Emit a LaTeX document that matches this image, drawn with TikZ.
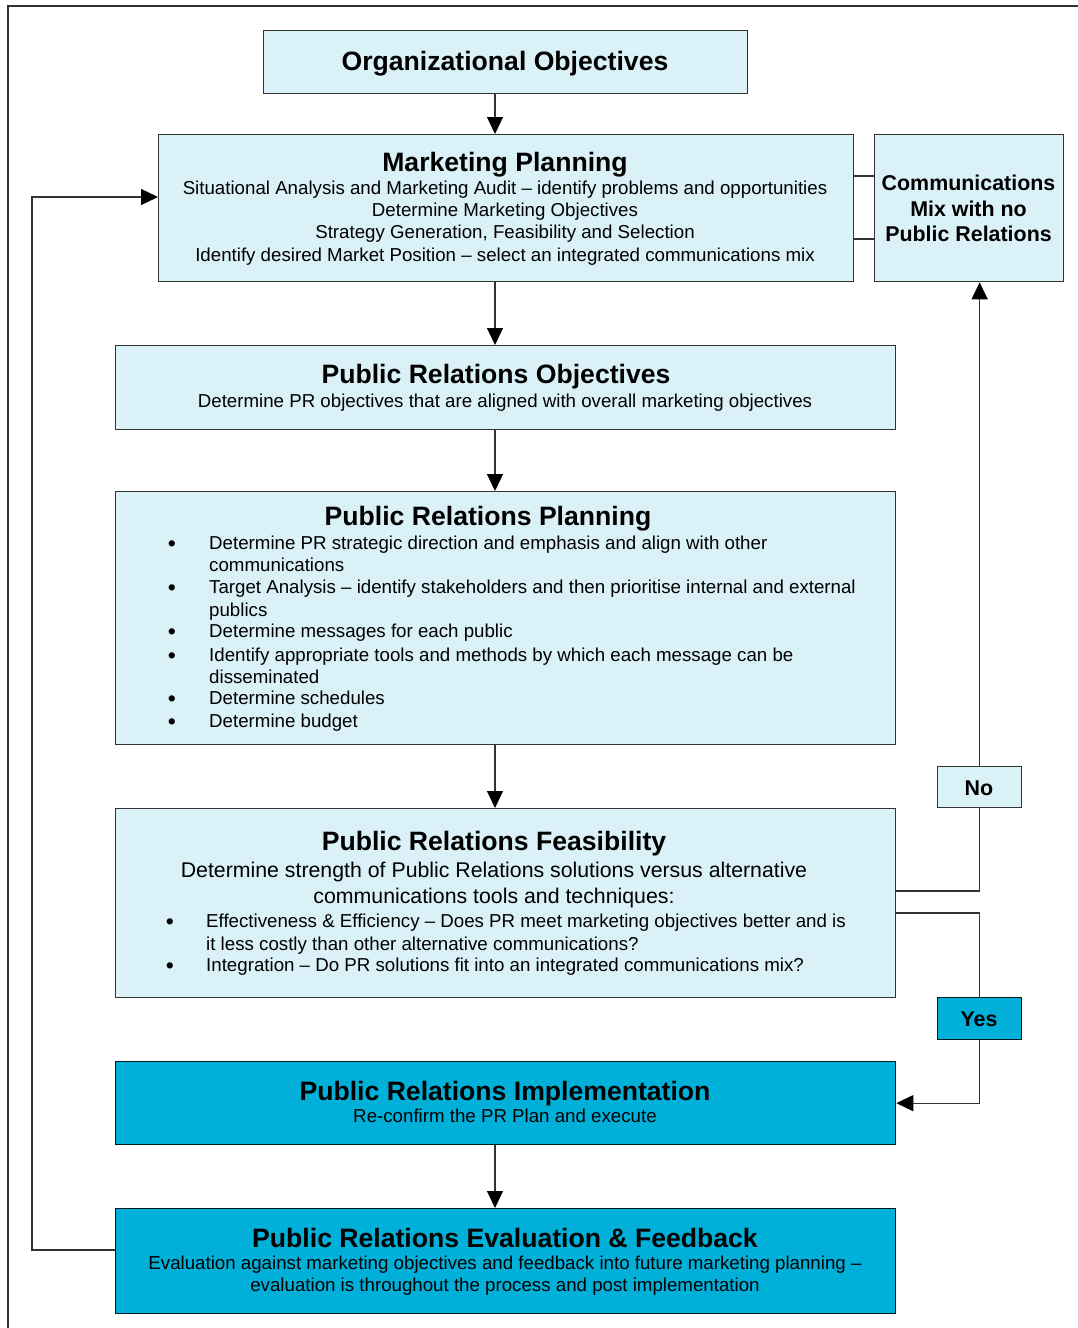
\documentclass[tikz,border=0pt]{standalone}
\usepackage{fontspec}
\setmainfont{Liberation Sans}
\usetikzlibrary{arrows.meta,calc}
\definecolor{lightb}{HTML}{DAF1F8}
\definecolor{darkb}{HTML}{00B0D8}
\definecolor{bordc}{HTML}{333333}
\tikzset{
  pbox/.style={draw=bordc, line width=1.3pt, fill=lightb, inner sep=0pt, anchor=north west},
  dbox/.style={pbox, fill=darkb, draw=black!85!darkb},
  conn/.style={draw=bordc, line width=1.2pt},
  arr/.style={conn, -{Triangle[length=17pt,width=16pt,color=black,fill=black]}},
  ttltext/.style={anchor=base, inner sep=0pt, font=\fontsize{26.6}{30}\selectfont\bfseries},
  lntext/.style={anchor=base, inner sep=0pt, font=\fontsize{18.7}{22}\selectfont},
  lnltext/.style={lntext, anchor=base west},
  bultext/.style={anchor=base, inner sep=0pt, yshift=-1.5pt, font=\fontsize{23}{26}\selectfont},
  midtext/.style={anchor=base, inner sep=0pt, font=\fontsize{21.3}{24}\selectfont},
  cmtext/.style={anchor=base, inner sep=0pt, font=\fontsize{21.4}{24}\selectfont\bfseries},
}
\begin{document}
\begin{tikzpicture}[x=1pt,y=-1pt]
\useasboundingbox (0,0) rectangle (1078,1328);
% outer frame
\coordinate (frTL) at (8,6);
\coordinate (frTR) at (1078,6);
\coordinate (frBL) at (8,1328);
\draw[conn, line width=1.3pt] (frBL) -- (frTL) -- (frTR);
\coordinate (spine) at (495,0);

% boxes
\node[pbox, minimum width=484pt, minimum height=63pt] (org) at (263,30) {};
\node[pbox, minimum width=695pt, minimum height=147pt] (mp) at (158,134) {};
\node[pbox, minimum width=189pt, minimum height=147pt] (comm) at (874,134) {};
\node[pbox, minimum width=780pt, minimum height=84pt] (pro) at (115,345) {};
\node[pbox, minimum width=780pt, minimum height=253pt] (prp) at (115,491) {};
\node[pbox, minimum width=780pt, minimum height=189pt] (feas) at (115,808) {};
\node[dbox, minimum width=780pt, minimum height=83pt] (impl) at (115,1061) {};
\node[dbox, minimum width=780pt, minimum height=105pt] (eval) at (115,1208) {};
\node[pbox, minimum width=84pt, minimum height=41pt] (no) at (937,766) {};
\node[dbox, minimum width=84pt, minimum height=42pt] (yes) at (937,997) {};

% texts
\node[ttltext] (t-org) at (505,70) {Organizational Objectives};

\node[ttltext] (t-mp) at (505,171) {Marketing Planning};
\node[lntext] (mp1) at (505,194.5) {Situational Analysis and Marketing Audit – identify problems and opportunities};
\node[lntext] (mp2) at (505,216.5) {Determine Marketing Objectives};
\node[lntext] (mp3) at (505,238.5) {Strategy Generation, Feasibility and Selection};
\node[lntext] (mp4) at (505,261.5) {Identify desired Market Position – select an integrated communications mix};

\node[cmtext] (c1) at (968.5,190) {Communications};
\node[cmtext] (c2) at (968.5,216) {Mix with no};
\node[cmtext] (c3) at (968.5,241) {Public Relations};

\node[ttltext] (t-pro) at (496,383) {Public Relations Objectives};
\node[lntext] (pro1) at (505,407.5) {Determine PR objectives that are aligned with overall marketing objectives};

\node[ttltext] (t-prp) at (488,525) {Public Relations Planning};
\foreach \yy/\tx [count=\i] in {549.5/{Determine PR strategic direction and emphasis and align with other},
  593.5/{Target Analysis – identify stakeholders and then prioritise internal and external},
  637.5/{Determine messages for each public},
  661.5/{Identify appropriate tools and methods by which each message can be},
  704.5/{Determine schedules},
  727.5/{Determine budget}}{
  \node[bultext] (prpb\i) at (172,\yy) {•};
  \node[lnltext] (prpt\i) at (209,\yy) {\tx};
}
\node[lnltext] (prpc1) at (209,571.5) {communications};
\node[lnltext] (prpc2) at (209,616.5) {publics};
\node[lnltext] (prpc3) at (209,683.5) {disseminated};

\node[ttltext] (t-feas) at (494,850) {Public Relations Feasibility};
\node[midtext] (f1) at (494,877) {Determine strength of Public Relations solutions versus alternative};
\node[midtext] (f2) at (494,903) {communications tools and techniques:};
\node[bultext] (fb1) at (170,927.5) {•};
\node[lnltext] (ft1) at (206,927.5) {Effectiveness \& Efficiency – Does PR meet marketing objectives better and is};
\node[lnltext] (ft1b) at (206,950.5) {it less costly than other alternative communications?};
\node[bultext] (fb2) at (170,971.5) {•};
\node[lnltext] (ft2) at (206,971.5) {Integration – Do PR solutions fit into an integrated communications mix?};

\node[ttltext] (t-impl) at (505,1100) {Public Relations Implementation};
\node[lntext] (impl1) at (505,1122.5) {Re-confirm the PR Plan and execute};

\node[ttltext] (t-eval) at (505,1247) {Public Relations Evaluation \& Feedback};
\node[lntext] (ev1) at (505,1269.5) {Evaluation against marketing objectives and feedback into future marketing planning –};
\node[lntext] (ev2) at (505,1291.5) {evaluation is throughout the process and post implementation};

\node[cmtext] (t-no) at (979,795) {No};
\node[cmtext] (t-yes) at (979,1026) {Yes};

% connectors
\draw[arr] (org.south -| spine) -- (mp.north -| spine);
\draw[arr] (mp.south -| spine) -- (pro.north -| spine);
\draw[arr] (pro.south -| spine) -- (prp.north -| spine);
\draw[arr] (prp.south -| spine) -- (feas.north -| spine);
\draw[arr] (impl.south -| spine) -- (eval.north -| spine);

\coordinate (mc1) at (0,176);
\coordinate (mc2) at (0,239);
\draw[conn] (mp.east |- mc1) -- (comm.west |- mc1);
\draw[conn] (mp.east |- mc2) -- (comm.west |- mc2);

\coordinate (fbb) at (32,1250);
\coordinate (fbt) at (32,197);
\draw[arr] (eval.west |- fbb) -- (fbb) -- (fbt) -- (mp.west |- fbt);

\coordinate (fno) at (0,891);
\coordinate (fyes) at (0,913);
\draw[conn] (feas.east |- fno) -| (no.south);
\draw[arr] (no.north) -- (comm.south -| no.north);
\draw[conn] (feas.east |- fyes) -| (yes.north);
\draw[arr] (yes.south) |- (impl.east);
\end{tikzpicture}
\end{document}
